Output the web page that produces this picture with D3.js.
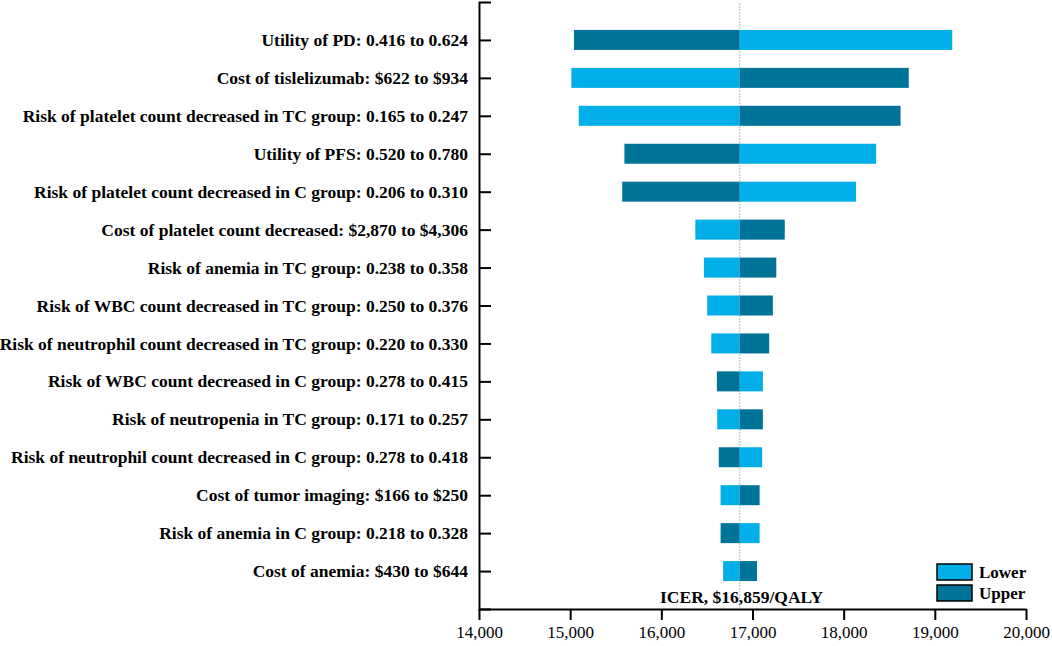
<!DOCTYPE html>
<html>
<head>
<meta charset="utf-8">
<script src="https://cdn.jsdelivr.net/npm/d3@7"></script>
<style>
  body { margin: 0; background: #fff; }
</style>
</head>
<body>
<svg width="1052" height="646"></svg>
<script>
const params = [
    'Utility of PD: 0.416 to 0.624',
    'Cost of tislelizumab: $622 to $934',
    'Risk of platelet count decreased in TC group: 0.165 to 0.247',
    'Utility of PFS: 0.520 to 0.780',
    'Risk of platelet count decreased in C group: 0.206 to 0.310',
    'Cost of platelet count decreased: $2,870 to $4,306',
    'Risk of anemia in TC group: 0.238 to 0.358',
    'Risk of WBC count decreased in TC group: 0.250 to 0.376',
    'Risk of neutrophil count decreased in TC group: 0.220 to 0.330',
    'Risk of WBC count decreased in C group: 0.278 to 0.415',
    'Risk of neutropenia in TC group: 0.171 to 0.257',
    'Risk of neutrophil count decreased in C group: 0.278 to 0.418',
    'Cost of tumor imaging: $166 to $250',
    'Risk of anemia in C group: 0.218 to 0.328',
    'Cost of anemia: $430 to $644'
];
// ICER when parameter at lower / upper bound
const lowerICER = [19191, 15013, 15094, 18356, 18136, 16373, 16467, 16503, 16548, 17114, 16613, 17106, 16650, 17078, 16678];
const upperICER = [15042, 18714, 18624, 15595, 15571, 17354, 17261, 17223, 17183, 16609, 17114, 16630, 17078, 16650, 17049];
const baseICER = 16859;
const xTicks = [14000, 15000, 16000, 17000, 18000, 19000, 20000];
const legendNames = ['Lower', 'Upper'];
const colors = ['#00aee8', '#007399'];

const serif = '"Liberation Serif", "Times New Roman", "DejaVu Serif", serif';

const svg = d3.select('svg');

const x = d3.scaleLinear().domain([14000, 20000]).range([479, 1026]);
const y = d3.scaleLinear().domain([-1, 15]).range([2, 609]);
const barH = 20;

// baseline
svg.append('line')
    .attr('x1', x(baseICER)).attr('x2', x(baseICER))
    .attr('y1', 3).attr('y2', 609)
    .attr('stroke', '#cfcfcf').attr('stroke-width', 1.5)
    .attr('stroke-dasharray', '2,1');

// bars
const rows = params.map((p, i) => ({ i, lo: lowerICER[i], hi: upperICER[i] }));

svg.append('g').selectAll('rect')
    .data(rows)
    .join('rect')
    .attr('x', d => Math.min(x(d.lo), x(baseICER)))
    .attr('width', d => Math.abs(x(d.lo) - x(baseICER)))
    .attr('y', d => y(d.i) - barH / 2)
    .attr('height', barH)
    .attr('fill', colors[0]);

svg.append('g').selectAll('rect')
    .data(rows)
    .join('rect')
    .attr('x', d => Math.min(x(d.hi), x(baseICER)))
    .attr('width', d => Math.abs(x(d.hi) - x(baseICER)))
    .attr('y', d => y(d.i) - barH / 2)
    .attr('height', barH)
    .attr('fill', colors[1]);

// y axis
const yAxis = svg.append('g')
    .attr('transform', `translate(${x(14000)},0)`)
    .call(d3.axisLeft(y)
        .tickValues(d3.range(params.length))
        .tickFormat(i => params[i])
        .tickSizeInner(-12)
        .tickSizeOuter(-12)
        .tickPadding(11));
yAxis.attr('font-family', serif).attr('font-size', 17.5).attr('font-weight', 'bold');
yAxis.selectAll('text').attr('fill', '#000');
yAxis.selectAll('line, path').attr('stroke', '#000').attr('stroke-width', 2);

// x axis
const xAxis = svg.append('g')
    .attr('transform', 'translate(0,609)')
    .call(d3.axisBottom(x)
        .tickValues(xTicks)
        .tickFormat(d3.format(','))
        .tickSize(11)
        .tickSizeOuter(0)
        .tickPadding(6));
xAxis.attr('font-family', serif).attr('font-size', 17);
xAxis.selectAll('text').attr('fill', '#000');
xAxis.selectAll('line, path').attr('stroke', '#000').attr('stroke-width', 2);

// ICER label
svg.append('text')
    .attr('x', x(baseICER) + 2).attr('y', 603)
    .attr('text-anchor', 'middle')
    .attr('font-family', serif).attr('font-size', 17.5).attr('font-weight', 'bold')
    .text(`ICER, $${d3.format(',')(baseICER)}/QALY`);

// legend
const legend = svg.append('g').attr('transform', 'translate(937,564)')
    .attr('font-family', serif).attr('font-size', 17).attr('font-weight', 'bold');
legendNames.forEach((name, i) => {
    legend.append('rect')
        .attr('x', 0).attr('y', i * 21)
        .attr('width', 35).attr('height', 16)
        .attr('fill', colors[i])
        .attr('stroke', '#000').attr('stroke-width', 1.5);
    legend.append('text')
        .attr('x', 42).attr('y', i * 21 + 14)
        .text(name);
});
</script>
</body>
</html>
